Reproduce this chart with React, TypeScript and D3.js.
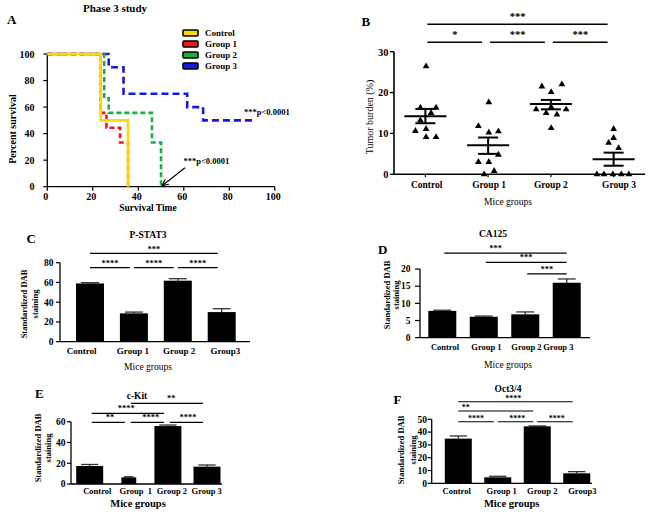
import React from "react";
import * as d3 from "d3";

const FONT = "'Liberation Serif', 'Times New Roman', serif";

// ---------- Shared ----------
const groupNames = ["Control", "Group 1", "Group 2", "Group 3"];

// ---------- Panel A: survival ----------
const survivalTicks = [0, 20, 40, 60, 80, 100];
const survControl: [number, number][] = [[0, 100], [23.5, 50], [35.5, 0]];
const survGroup1: [number, number][] = [[0, 100], [23.5, 55.6], [26, 44.4], [32, 33.3], [35.5, 0]];
const survGroup2: [number, number][] = [[0, 100], [25, 66.7], [27, 55.6], [46, 33.3], [50, 0]];
const survGroup3: [number, number][] = [[0, 100], [27, 90], [33.5, 70], [61.5, 60], [68.5, 50], [91, 50]];
const legendLabels = ["Control", "Group 1", "Group 2", "Group 3"];
const pValueText = "***p<0.0001";

// ---------- Panel B: tumor burden ----------
const tumorTicks = [0, 10, 20, 30];
const tumorControl = [26.4, 16.3, 16.3, 15.0, 13.2, 11.1, 10.6, 9.1, 9.1];
const tumorGroup1 = [17.6, 11.8, 10.2, 10.5, 4.8, 3.0, 3.0, 0, 0.8];
const tumorGroup2 = [21.5, 22.0, 20.1, 15.9, 15.0, 14.6, 15.9, 16.4, 11.3];
const tumorGroup3 = [11.1, 8.9, 7.7, 6.4, 0, 0, 0, 0, 0];
const tumorMean = [14.2, 7.1, 17.2, 3.7];
const tumorSemHigh = [16.0, 9.0, 18.2, 5.3];
const tumorSemLow = [12.5, 5.0, 15.9, 2.1];
const tumorComparisons: [string, string, string, number][] = [
  ["Control", "Group 1", "*", 32.3],
  ["Group 1", "Group 2", "***", 32.3],
  ["Group 2", "Group 3", "***", 32.3],
  ["Control", "Group 3", "***", 36.7],
];

// ---------- Panel C: P-STAT3 ----------
const pstat3Values = [59, 28.7, 61.8, 30];
const pstat3Sem = [0.8, 1.3, 2.0, 3.4];
const pstat3Ticks = [0, 20, 40, 60, 80];
const pstat3Labels = ["Control", "Group 1", "Group 2", "Group3"];
const pstat3Comparisons: [string, string, string, number, number][] = [
  ["Control", "Group 1", "****", 75, 0.5],
  ["Group 1", "Group 2", "****", 75, 0.5],
  ["Group 2", "Group 3", "****", 75, 0.5],
  ["Control", "Group 3", "***", 89.5, 0.5],
];

// ---------- Panel D: CA125 ----------
const ca125Values = [7.8, 6.1, 6.8, 16.0];
const ca125Sem = [0.2, 0.2, 0.7, 1.1];
const ca125Ticks = [0, 5, 10, 15, 20];
const ca125Labels = ["Control", "Group 1", "Group 2", "Group 3"];
const ca125Comparisons: [string, string, string, number, number][] = [
  ["Group 2", "Group 3", "***", 18.6, 0.5],
  ["Group 1", "Group 3", "***", 21.9, 0.5],
  ["Control", "Group 3", "***", 24.6, 0.42],
];

// ---------- Panel E: c-Kit ----------
const ckitValues = [17.3, 6.4, 55.8, 16.7];
const ckitSem = [1.5, 0.6, 1.0, 1.6];
const ckitTicks = [0, 20, 40, 60];
const ckitLabels = ["Control", "Group  1", "Group 2", "Group 3"];
const ckitComparisons: [string, string, string, number, number][] = [
  ["Control", "Group 1", "**", 59.4, 0.55],
  ["Group 1", "Group 2", "****", 59.4, 0.6],
  ["Group 2", "Group 3", "****", 59.4, 0.55],
  ["Control", "Group 2", "****", 68, 0.48],
  ["Group 1", "Group 3", "**", 77.7, 0.56],
];

// ---------- Panel F: Oct3/4 ----------
const octValues = [34.9, 4.7, 44.5, 7.8];
const octSem = [2.1, 0.8, 0.3, 1.3];
const octTicks = [0, 10, 20, 30, 40, 50];
const octLabels = ["Control", "Group 1", "Group 2", "Group3"];
const octComparisons: [string, string, string, number, number][] = [
  ["Control", "Group 1", "****", 48.1, 0.5],
  ["Group 1", "Group 2", "****", 48.1, 0.55],
  ["Group 2", "Group 3", "****", 48.1, 0.55],
  ["Control", "Group 2", "**", 56.5, 0.1],
  ["Control", "Group 3", "****", 63.7, 0.48],
];

// ---------- Styles ----------
const survColors = ["#ffd800", "#f01818", "#18b040", "#1818e0"];
const survDash = ["none", "5,3", "5,3", "7,4"];

function SurvivalPanel() {
  const x = d3.scaleLinear().domain([0, 100]).range([47.3, 274.8]);
  const y = d3.scaleLinear().domain([0, 100]).range([186.7, 54]);
  const line = d3
    .line<[number, number]>()
    .x((d) => x(d[0]))
    .y((d) => y(d[1]))
    .curve(d3.curveStepAfter);
  const series = [survControl, survGroup1, survGroup2, survGroup3];
  const order = [3, 2, 1, 0];
  const ax2 = x(50) + 1;
  const ay2 = y(0) - 1;
  const ax1 = ax2 + 23;
  const ay1 = ay2 - 18;
  const ang = Math.atan2(ay1 - ay2, ax1 - ax2);
  const head = 7;
  const h1 = [ax2 + head * Math.cos(ang + 0.45), ay2 + head * Math.sin(ang + 0.45)];
  const h2 = [ax2 + head * Math.cos(ang - 0.45), ay2 + head * Math.sin(ang - 0.45)];
  return (
    <g>
      <text x={115} y={12} textAnchor="middle" fontSize={11} fontWeight="bold">Phase 3 study</text>
      <text x={7} y={23.5} fontSize={13} fontWeight="bold">A</text>
      {legendLabels.map((l, i) => (
        <g key={l}>
          <rect x={183} y={30 + i * 11} width={15} height={6} fill={survColors[i]} stroke="#000" strokeWidth={1.6} rx={1} />
          <text x={205} y={36 + i * 11} fontSize={9} fontWeight="bold">{l}</text>
        </g>
      ))}
      <line x1={x(0)} x2={x(100)} y1={y(0)} y2={y(0)} stroke="#000" strokeWidth={1.3} />
      <line x1={x(0)} x2={x(0)} y1={y(0)} y2={y(100)} stroke="#000" strokeWidth={1.3} />
      {survivalTicks.map((t) => (
        <g key={"x" + t}>
          <line x1={x(t)} x2={x(t)} y1={y(0)} y2={y(0) + 4} stroke="#000" strokeWidth={1.2} />
          <text x={x(t) - 1.5} y={200} textAnchor="middle" fontSize={10} fontWeight="bold">{t}</text>
        </g>
      ))}
      {survivalTicks.map((t) => (
        <g key={"y" + t}>
          <line x1={x(0) - 4} x2={x(0)} y1={y(t)} y2={y(t)} stroke="#000" strokeWidth={1.2} />
          <text x={34.5} y={y(t) + 3.5} textAnchor="end" fontSize={10} fontWeight="bold">{t}</text>
        </g>
      ))}
      <text transform={`translate(12,129) rotate(-90)`} textAnchor="middle" dominantBaseline="central" fontSize={10} fontWeight="bold">Percent survival</text>
      <text x={148} y={210.5} textAnchor="middle" fontSize={9.5} fontWeight="bold">Survival Time</text>
      {order.map((i) => (
        <path key={i} d={line(series[i]) || ""} fill="none" stroke={survColors[i]} strokeWidth={2.6} strokeDasharray={survDash[i]} />
      ))}
      <text x={244} y={114.5} fontSize={8.5} fontWeight="bold">{pValueText}</text>
      <text x={183.5} y={164} fontSize={8.5} fontWeight="bold">{pValueText}</text>
      <line x1={ax1} y1={ay1} x2={ax2} y2={ay2} stroke="#000" strokeWidth={1.2} />
      <polyline points={`${h1[0]},${h1[1]} ${ax2},${ay2} ${h2[0]},${h2[1]}`} fill="none" stroke="#000" strokeWidth={1.2} />
    </g>
  );
}

const tumorJitter = [
  [0.7, -5, 10.7, 5.7, -5, 0.7, -10, 0.7, 10.7],
  [0.7, -9.7, 0.7, 10.3, 10.3, -9.7, 0.7, -4, 6],
  [-9, 11, 0.3, -14.7, -4.7, 6, 15.3, 0.3, 0.3],
  [0, 0, -5, 5, -16.7, -9.7, -0.7, 7.7, 15.3],
];

function TumorPanel() {
  const x = d3.scaleBand().domain(groupNames).range([394, 645]);
  const cx = (g: string) => (x(g) || 0) + x.bandwidth() / 2;
  const y = d3.scaleLinear().domain([0, 30]).range([174.3, 51.7]);
  const data = [tumorControl, tumorGroup1, tumorGroup2, tumorGroup3];
  const tri = d3.symbol().type(d3.symbolTriangle).size(20)() || "";
  const labelDx = [1.3, 1, 0, 5.4];
  return (
    <g>
      <text x={361.5} y={26} fontSize={13} fontWeight="bold">B</text>
      <line x1={394} x2={645} y1={y(0)} y2={y(0)} stroke="#000" strokeWidth={1.6} />
      <line x1={394} x2={394} y1={y(0)} y2={y(30)} stroke="#000" strokeWidth={1.6} />
      {tumorTicks.map((t) => (
        <g key={t}>
          <line x1={390} x2={394} y1={y(t)} y2={y(t)} stroke="#000" strokeWidth={1.4} />
          <text x={388.5} y={y(t) + 3.8} textAnchor="end" fontSize={10.5} fontWeight="bold">{t}</text>
        </g>
      ))}
      {groupNames.map((g, i) => (
        <g key={g}>
          <line x1={cx(g)} x2={cx(g)} y1={y(0)} y2={y(0) + 3} stroke="#000" strokeWidth={1.2} />
          <text x={cx(g) + labelDx[i]} y={187.5} textAnchor="middle" fontSize={9.5} fontWeight="bold">{g}</text>
          {data[i].map((v, j) => (
            <path key={j} d={tri} transform={`translate(${cx(g) + tumorJitter[i][j]},${y(v)})`} fill="#000" />
          ))}
          <line x1={cx(g) - 21} x2={cx(g) + 21} y1={y(tumorMean[i])} y2={y(tumorMean[i])} stroke="#000" strokeWidth={2} />
          <line x1={cx(g) - 10} x2={cx(g) + 10} y1={y(tumorSemHigh[i])} y2={y(tumorSemHigh[i])} stroke="#000" strokeWidth={2} />
          <line x1={cx(g) - 10} x2={cx(g) + 10} y1={y(tumorSemLow[i])} y2={y(tumorSemLow[i])} stroke="#000" strokeWidth={2} />
          <line x1={cx(g)} x2={cx(g)} y1={y(tumorSemHigh[i])} y2={y(tumorSemLow[i])} stroke="#000" strokeWidth={2} />
        </g>
      ))}
      {tumorComparisons.map(([a, b, s, lv], i) => {
        const x1 = cx(a) + 2;
        const x2 = cx(b) - 6;
        return (
          <g key={i}>
            <line x1={x1} x2={x2} y1={y(lv)} y2={y(lv)} stroke="#000" strokeWidth={1.6} />
            <text x={(x1 + x2) / 2} y={y(lv) - 4.5} textAnchor="middle" fontSize={10.5} fontWeight="bold">{s}</text>
          </g>
        );
      })}
      <text transform={`translate(369,117) rotate(-90)`} textAnchor="middle" dominantBaseline="central" fontSize={10}>Tumor burden (%)</text>
      <text x={508} y={205} textAnchor="middle" fontSize={9.5}>Mice groups</text>
    </g>
  );
}

type BarCfg = {
  letter: string; letterX: number; letterY: number;
  title: string; titleX: number; titleY: number;
  values: number[]; sems: number[]; labels: string[]; labelDx: number[]; labelY: number; labelSize: number;
  barScale: number[];
  ticks: number[]; yMax: number; y0: number; yTopPx: number;
  bandRange: [number, number]; padding: number;
  axisX: number; axisRight: number; tickLabelX: number; tickLen: number;
  comps: [string, string, string, number, number][]; insetL: number; insetR: number; starGap: number; starSize: number;
  ylabX1: number; ylabX2: number; ylabY: number;
  xlabX: number; xlabY: number; xlabBold: boolean; xlabSize: number;
};

function BarPanel({ c }: { c: BarCfg }) {
  const x = d3.scaleBand().domain(groupNames).range(c.bandRange).paddingInner(c.padding).paddingOuter(c.padding / 2);
  const cx = (g: string) => (x(g) || 0) + x.bandwidth() / 2;
  const y = d3.scaleLinear().domain([0, c.yMax]).range([c.y0, c.yTopPx]);
  return (
    <g>
      <text x={c.letterX} y={c.letterY} fontSize={13} fontWeight="bold">{c.letter}</text>
      <text x={c.titleX} y={c.titleY} textAnchor="middle" fontSize={9.5} fontWeight="bold">{c.title}</text>
      {groupNames.map((g, i) => {
        const bw = x.bandwidth() * c.barScale[i];
        return (
          <g key={g}>
            <line x1={cx(g)} x2={cx(g)} y1={y(c.values[i] + c.sems[i])} y2={y(c.values[i])} stroke="#333" strokeWidth={1.3} />
            <line x1={cx(g) - bw * 0.32} x2={cx(g) + bw * 0.32} y1={y(c.values[i] + c.sems[i])} y2={y(c.values[i] + c.sems[i])} stroke="#333" strokeWidth={1.3} />
            <rect x={cx(g) - bw / 2} y={y(c.values[i])} width={bw} height={c.y0 - y(c.values[i])} fill="#000" />
            <text x={cx(g) + c.labelDx[i]} y={c.labelY} textAnchor="middle" fontSize={c.labelSize} fontWeight="bold" style={{ whiteSpace: "pre" }}>{c.labels[i]}</text>
          </g>
        );
      })}
      <line x1={c.axisX} x2={c.axisRight} y1={c.y0} y2={c.y0} stroke="#000" strokeWidth={1.3} />
      <line x1={c.axisX} x2={c.axisX} y1={c.y0} y2={c.yTopPx} stroke="#000" strokeWidth={1.3} />
      {c.ticks.map((t) => (
        <g key={t}>
          <line x1={c.axisX - c.tickLen} x2={c.axisX} y1={y(t)} y2={y(t)} stroke="#000" strokeWidth={1.2} />
          <text x={c.tickLabelX} y={y(t) + 3.3} textAnchor="end" fontSize={9.5} fontWeight="bold">{t}</text>
        </g>
      ))}
      {c.comps.map(([a, b, s, lv, at], i) => {
        const x1 = cx(a) + c.insetL;
        const x2 = cx(b) - c.insetR;
        return (
          <g key={i}>
            <line x1={x1} x2={x2} y1={y(lv)} y2={y(lv)} stroke="#000" strokeWidth={1.2} />
            <text x={x1 + (x2 - x1) * at} y={y(lv) - c.starGap} textAnchor="middle" fontSize={c.starSize} fontWeight="bold">{s}</text>
          </g>
        );
      })}
      <text transform={`translate(${c.ylabX1},${c.ylabY}) rotate(-90)`} textAnchor="middle" dominantBaseline="central" fontSize={8.5} fontWeight="bold">Standardized DAB</text>
      <text transform={`translate(${c.ylabX2},${c.ylabY}) rotate(-90)`} textAnchor="middle" dominantBaseline="central" fontSize={8.5} fontWeight="bold">staining</text>
      <text x={c.xlabX} y={c.xlabY} textAnchor="middle" fontSize={c.xlabSize} fontWeight={c.xlabBold ? "bold" : "normal"}>Mice groups</text>
    </g>
  );
}

const cfgC: BarCfg = {
  letter: "C", letterX: 26.5, letterY: 242.5, title: "P-STAT3", titleX: 148, titleY: 237.5,
  values: pstat3Values, sems: pstat3Sem, labels: pstat3Labels, labelDx: [-8.3, -1, 1.3, 3.6], labelY: 354, labelSize: 9,
  barScale: [1, 1, 1, 1],
  ticks: pstat3Ticks, yMax: 80, y0: 341.7, yTopPx: 262.7,
  bandRange: [68.05, 243.65], padding: 0.362,
  axisX: 60, axisRight: 250, tickLabelX: 53.5, tickLen: 4,
  comps: pstat3Comparisons, insetL: 0, insetR: 4, starGap: 1.5, starSize: 8.5,
  ylabX1: 23.5, ylabX2: 34.5, ylabY: 304,
  xlabX: 148, xlabY: 370, xlabBold: false, xlabSize: 9.5,
};

const cfgD: BarCfg = {
  letter: "D", letterX: 378, letterY: 254, title: "CA125", titleX: 493, titleY: 236.5,
  values: ca125Values, sems: ca125Sem, labels: ca125Labels, labelDx: [2.7, 2.7, 1.2, -8.4], labelY: 350, labelSize: 8.5,
  barScale: [1, 1, 1, 1],
  ticks: ca125Ticks, yMax: 20, y0: 337.7, yTopPx: 269,
  bandRange: [421.57, 587.45], padding: 0.325,
  axisX: 420, axisRight: 590, tickLabelX: 410.5, tickLen: 5,
  comps: ca125Comparisons, insetL: 2, insetR: 0, starGap: 2, starSize: 8.5,
  ylabX1: 386.5, ylabX2: 396, ylabY: 295,
  xlabX: 508, xlabY: 367.5, xlabBold: false, xlabSize: 9.5,
};

const cfgE: BarCfg = {
  letter: "E", letterX: 35, letterY: 397.5, title: "c-Kit", titleX: 137, titleY: 398.5,
  values: ckitValues, sems: ckitSem, labels: ckitLabels, labelDx: [7.6, 7, 4, -0.3], labelY: 494, labelSize: 8.5,
  barScale: [1, 0.55, 1, 1],
  ticks: ckitTicks, yMax: 60, y0: 484, yTopPx: 421.7,
  bandRange: [70.15, 226.55], padding: 0.31,
  axisX: 71, axisRight: 222, tickLabelX: 65.5, tickLen: 4,
  comps: ckitComparisons, insetL: 2, insetR: 4, starGap: 2, starSize: 8.5,
  ylabX1: 38, ylabX2: 47.5, ylabY: 448,
  xlabX: 138, xlabY: 506.5, xlabBold: true, xlabSize: 10.5,
};

const cfgF: BarCfg = {
  letter: "F", letterX: 393.5, letterY: 404, title: "Oct3/4", titleX: 508, titleY: 392,
  values: octValues, sems: octSem, labels: octLabels, labelDx: [-1.6, 3.9, 5, 5.6], labelY: 493.5, labelSize: 8.5,
  barScale: [1, 1, 1, 1],
  ticks: octTicks, yMax: 50, y0: 483.3, yTopPx: 419.3,
  bandRange: [438.57, 596.45], padding: 0.316,
  axisX: 431.7, axisRight: 592, tickLabelX: 427, tickLen: 4,
  comps: octComparisons, insetL: 0, insetR: 4, starGap: 0.5, starSize: 8,
  ylabX1: 400.5, ylabX2: 412.5, ylabY: 450,
  xlabX: 511.7, xlabY: 507, xlabBold: true, xlabSize: 10.5,
};

export default function App() {
  return (
    <svg width={650} height={517} style={{ position: "absolute", left: 0, top: 0, background: "#fff" }} fontFamily={FONT}>
      <rect width={650} height={517} fill="#fff" />
      <SurvivalPanel />
      <TumorPanel />
      <BarPanel c={cfgC} />
      <BarPanel c={cfgD} />
      <BarPanel c={cfgE} />
      <BarPanel c={cfgF} />
    </svg>
  );
}
